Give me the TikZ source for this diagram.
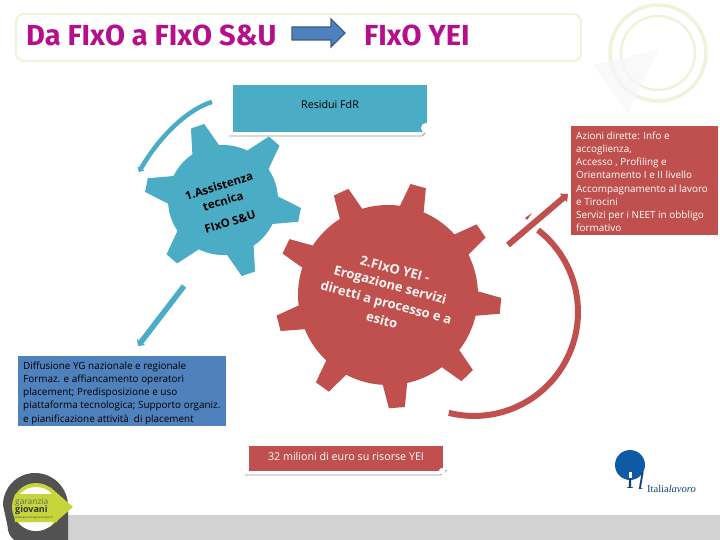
\documentclass[tikz,border=0pt]{standalone}
\usepackage{fontspec}
\setmainfont{Open Sans}
\newfontfamily\titlefont{Fira Sans}
\newfontfamily\logofont{Liberation Serif}
\usetikzlibrary{arrows.meta}
\usetikzlibrary{positioning}
\definecolor{teal1}{HTML}{4BACC6}
\definecolor{red1}{HTML}{C0504D}
\definecolor{blue1}{HTML}{4F81BD}
\definecolor{blue2}{HTML}{385D8A}
\definecolor{magenta1}{HTML}{B5108A}
\definecolor{ring1}{HTML}{EEF3DC}
\definecolor{lime1}{HTML}{C6D63A}
\definecolor{navy1}{HTML}{123F73}
\definecolor{blue3}{HTML}{0F5AA5}
\tikzset{
    titletext/.style={font=\titlefont\bfseries\fontsize{29}{31}\selectfont,text=magenta1,inner sep=0pt},
    bodytext/.style={font=\fontsize{9.9}{13.2}\selectfont,align=left,inner sep=0pt,anchor=north west},
    boxtext/.style={font=\fontsize{10.7}{12}\selectfont,inner sep=0pt},
    gearone/.style={font=\bfseries\fontsize{11.5}{13}\selectfont,text=black,rotate=17,inner sep=0pt},
    geartwo/.style={font=\bfseries\fontsize{13}{14}\selectfont,text=white!95!red1,rotate=-15,inner sep=0pt},
    curlline/.style={gray!80,line width=0.8pt},
}
\begin{document}
\begin{tikzpicture}[x=1pt,y=-1pt]
    \useasboundingbox (0,0) rectangle (720,540);
    % footer
    \fill[gray!35] (68,515) rectangle (720,540);
    % rings
    \draw[ring1,line width=3.5pt] (658,53) circle (48pt);
    \draw[ring1,line width=2.5pt] (658,53) circle (37pt);
    \fill[gray!6,opacity=.8] (658,50) -- (593,65) -- (628,113) -- cycle;
    % title
    \draw[ring1,line width=2.2pt,rounded corners=8pt] (16,14) rectangle (581,61);
    \node[titletext,anchor=west] (titleleft) at (26,35) {Da FIxO a FIxO S\&U};
    \node[titletext,anchor=west] (titleright) at (364,35) {FIxO YEI};
    \draw[fill=blue1,draw=blue2,line width=1.2pt] (292,27) -- (331,27) -- (331,19) -- (345,33) -- (331,47) -- (331,40) -- (292,40) -- cycle;
    % top box
    \fill[teal1] (233,85) rectangle (427,132);
    \draw[curlline] (229,136) -- (422,136) -- (431,127);
    \fill[white] (426,128) circle (5pt);
    \node[boxtext] (residui) at (330,104) {Residui FdR};
    % gear 1
    \fill[teal1] (223,200) circle (55pt);
    \foreach \a in {-11,49,109,169,229,289}{
        \fill[teal1,shift={(223,200)},rotate=\a] (50pt,-15pt) -- (78pt,-7pt) -- (78pt,7pt) -- (50pt,15pt) -- cycle;
    }
    \node[gearone] (gearonea) at (219,186) {1.Assistenza};
    \node[gearone] (gearoneb) at (223,201) {tecnica};
    \node[gearone] (gearonec) at (230,222) {FIxO S\&U};
    % gear 2
    \fill[red1] (388,295) circle (90pt);
    \foreach \a in {-5.5,34.5,74.5,114.5,154.5,194.5,234.5,274.5,314.5}{
        \fill[red1,shift={(388,295)},rotate=\a] (85pt,-13pt) -- (113pt,-8pt) -- (113pt,8pt) -- (85pt,13pt) -- cycle;
    }
    \node[geartwo] (geartwoa) at (395,269) {2.FIxO YEI -};
    \node[geartwo] (geartwob) at (390,286) {Erogazione servizi};
    \node[geartwo] (geartwoc) at (386,304) {diretti a processo e a};
    \node[geartwo] (geartwod) at (382,320) {esito};
    % red box
    \fill[red1] (571,126) rectangle (718,235);
    \node[bodytext,text=white] (azioni) at (576,131.5) {Azioni dirette: Info e\\accoglienza,\\Accesso , Profiling e\\Orientamento I e II livello\\Accompagnamento al lavoro\\e Tirocini\\Servizi per i NEET in obbligo\\formativo};
    % blue box
    \fill[blue1] (18,356) rectangle (226,426);
    \node[bodytext,text=black] (diffusione) at (23,361.5) {Diffusione YG nazionale e regionale\\Formaz. e affiancamento operatori\\placement; Predisposizione e uso\\piattaforma tecnologica; Supporto organiz.\\e pianificazione attivit\`a\ \ di placement};
    % money box
    \fill[red1] (249,446) rectangle (443,471);
    \draw[curlline] (245,475) -- (440,475) -- (447,470);
    \fill[white] (442,471) circle (3pt);
    \node[boxtext,text=white] (risorse) at (346,456) {32 milioni di euro su risorse YEI};
    % arrows
    \coordinate (arcastart) at (212,102);
    \coordinate (arcaend) at (139,172);
    \coordinate (blueastart) at (184,286);
    \coordinate (blueaend) at (138,346);
    \coordinate (redastart) at (508,245);
    \coordinate (redaend) at (568,194);
    \coordinate (arcbstart) at (538,230);
    \draw[teal1,line width=4.5pt,-{Triangle[length=4pt,width=8pt]}] (arcastart) .. controls (190,108) and (160,135) .. (arcaend);
    \draw[teal1,line width=5.5pt,-{Triangle[length=5pt,width=10pt]}] (blueastart) -- (blueaend);
    \draw[red1,line width=6pt,-{Triangle[length=6pt,width=11pt]}] (redastart) -- (redaend);
    \draw[red1,line width=6pt] (arcbstart) arc (52:-104:104pt);
    \fill[red1] (525,218) -- (532,213) -- (527,220) -- cycle;
    % logo garanzia
    \fill[black!68] (3,505) arc (180:90:32pt) arc (90:0:33pt) -- (68,540) -- (14,540) arc (230:180:18pt) -- cycle;
    \fill[lime1] (36,483) arc (90:-270:24pt) -- cycle;
    \fill[lime1] (50,487) -- (73,507) -- (50,527) -- cycle;
    \fill[white] (36,487) arc (90:-270:22pt) -- cycle;
    \fill[lime1] (15,494) -- (57,494) -- (60,507) -- (57,522) -- (15,522) -- (13,507) -- cycle;
    \node[font=\fontsize{8.4}{9}\selectfont,text=black!60,inner sep=0pt,anchor=west] (garanzia) at (15,502) {garanzia};
    \node[font=\bfseries\fontsize{9}{9}\selectfont,text=black!80,inner sep=0pt,anchor=west] (giovani) at (15,510.5) {giovani};
    \node[font=\fontsize{3}{3}\selectfont,text=black!70,inner sep=0pt,anchor=west] (sito) at (15,518) {www.garanziagiovani.gov.it};
    % logo italia lavoro
    \fill[blue3] (630,465) circle (15pt);
    \node[font=\logofont\fontsize{24}{24}\selectfont,text=navy1,inner sep=0pt] (logoi) at (630,481) {I};
    \fill[white] (628.5,472) rectangle (631.5,478);
    \node[font=\logofont\itshape\fontsize{24}{24}\selectfont,text=navy1,inner sep=0pt] (logol) at (641,481) {l};
    \node[font=\logofont\fontsize{10.5}{11}\selectfont,text=navy1,inner sep=0pt,anchor=west] (italialavoro) at (647,489) {Italia\textit{lavoro}};
\end{tikzpicture}
\end{document}
